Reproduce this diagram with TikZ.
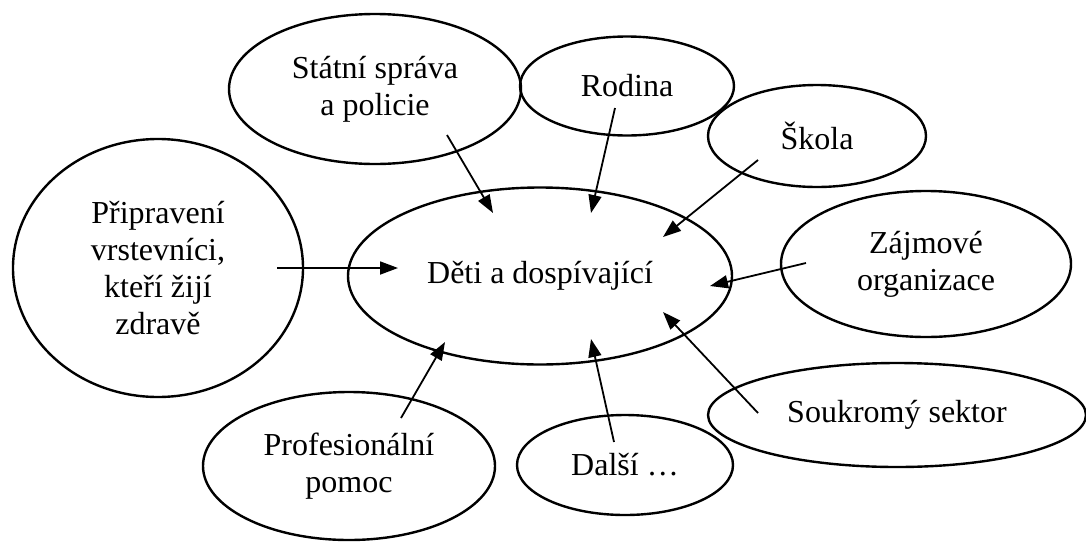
\documentclass[tikz,border=0pt]{standalone}
\usepackage{fontspec}
\setmainfont{Liberation Serif}
\usetikzlibrary{shapes.geometric,arrows.meta}
\begin{document}
\begin{tikzpicture}[x=0.5pt,y=-0.5pt,
  oval/.style={draw,ellipse,line width=1.2pt,inner sep=0pt,align=center,
    font=\fontsize{16}{18.5}\selectfont},
  arr/.style={line width=0.9pt,-{Triangle[length=9pt,width=6.5pt]}}]
\useasboundingbox (0,0) rectangle (1086,541);
% ellipses
\node[oval,minimum width=192pt,minimum height=88.5pt] (c) at (540,276) {Děti a dospívající};
\node[oval,minimum width=146pt,minimum height=75pt] (st) at (375,89) {Státní správa\\a policie};
\node[oval,minimum width=107pt,minimum height=49.5pt] (ro) at (627,86) {Rodina};
\node[oval,minimum width=109pt,minimum height=51pt] (sk) at (817,136) {Škola};
\node[oval,minimum width=145pt,minimum height=129pt] (pr) at (158,268) {Připravení\\vrstevníci,\\kteří žijí\\zdravě};
\node[oval,minimum width=145pt,minimum height=73pt] (za) at (926,264) {Zájmové\\organizace};
\node[oval,minimum width=189pt,minimum height=52pt] (so) at (897,415) {Soukromý sektor};
\node[oval,minimum width=146pt,minimum height=74pt] (pf) at (349,466) {Profesionální\\pomoc};
\node[oval,minimum width=108pt,minimum height=50pt] (da) at (625,465) {Další \dots};
% arrow end points
\coordinate (st-o) at (447,135);  \coordinate (c-st) at (493,213);
\coordinate (ro-o) at (615,108);  \coordinate (c-ro) at (591,213);
\coordinate (sk-o) at (758,160);  \coordinate (c-sk) at (663,237);
\coordinate (pr-o) at (277,268);  \coordinate (c-pr) at (398,268);
\coordinate (za-o) at (806,263);  \coordinate (c-za) at (710,286);
\coordinate (so-o) at (758,413);  \coordinate (c-so) at (663,312);
\coordinate (pf-o) at (401,418);  \coordinate (c-pf) at (445,342);
\coordinate (da-o) at (614,442);  \coordinate (c-da) at (591,339);
% arrows
\draw[arr] (st-o) -- (c-st);
\draw[arr] (ro-o) -- (c-ro);
\draw[arr] (sk-o) -- (c-sk);
\draw[arr] (pr-o) -- (c-pr);
\draw[arr] (za-o) -- (c-za);
\draw[arr] (so-o) -- (c-so);
\draw[arr] (pf-o) -- (c-pf);
\draw[arr] (da-o) -- (c-da);
\end{tikzpicture}
\end{document}
